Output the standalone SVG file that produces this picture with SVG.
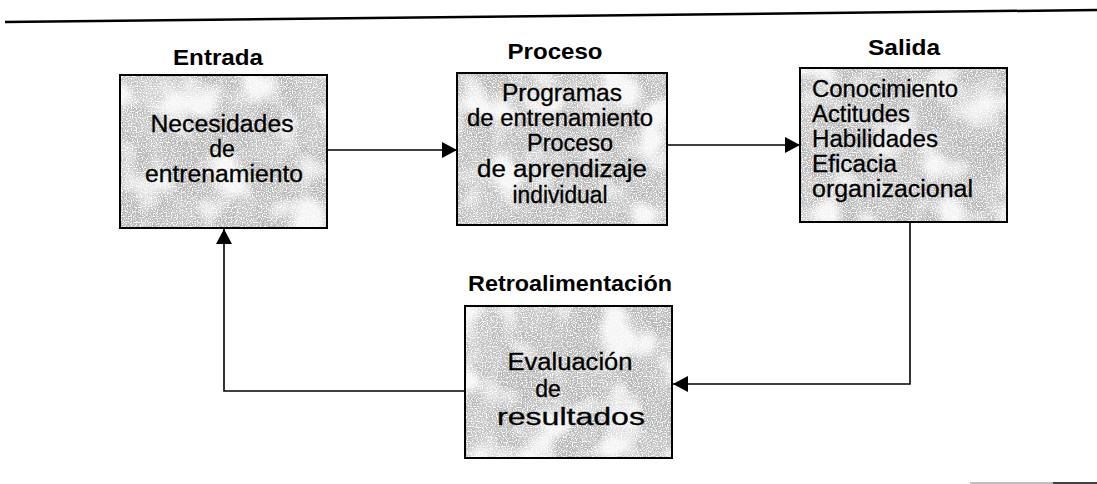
<svg xmlns="http://www.w3.org/2000/svg" width="1097" height="484" viewBox="0 0 1097 484">
<defs>
<style>
.lbl{font-family:"Liberation Sans",Arial,sans-serif;font-weight:bold;font-size:22px;fill:#000}
.txt{font-family:"Liberation Sans",Arial,sans-serif;font-size:23px;fill:#000;stroke:#000;stroke-width:0.3}
.fillbox{fill:#b0b0b0;filter:url(#mottle)}
.frame{fill:none;stroke:#000;stroke-width:2}
.edge{fill:none;stroke:#000;stroke-width:1.6}
</style>
<filter id="mottle" x="0" y="0" width="100%" height="100%">
<feTurbulence type="fractalNoise" baseFrequency="0.03" numOctaves="3" seed="4" result="n"/>
<feColorMatrix in="n" type="matrix" values="0 0 0 0 0.55  0 0 0 0 0.55  0 0 0 0 0.55  0 0 0 4 -1.6" result="dark"/>
<feTurbulence type="fractalNoise" baseFrequency="0.025" numOctaves="2" seed="11" result="n2"/>
<feColorMatrix in="n2" type="matrix" values="0 0 0 0 0.9  0 0 0 0 0.9  0 0 0 0 0.9  0 0 0 4 -1.9" result="light"/>
<feTurbulence type="fractalNoise" baseFrequency="0.8" numOctaves="1" seed="7" result="f"/>
<feColorMatrix in="f" type="matrix" values="0 0 0 0 1  0 0 0 0 1  0 0 0 0 1  0 0 0 5 -2.4" result="speck"/>
<feFlood flood-color="#b8b8b8" result="base"/>
<feComposite in="dark" in2="base" operator="over" result="m1"/>
<feComposite in="light" in2="m1" operator="over" result="m2"/>
<feComposite in="speck" in2="m2" operator="over" result="m3"/>
<feComposite in="m3" in2="SourceGraphic" operator="in"/>
</filter>
<marker id="arr" viewBox="0 0 15 16" refX="15" refY="8" markerWidth="15" markerHeight="16" markerUnits="userSpaceOnUse" orient="auto">
<path d="M0,0 L15,8 L0,16 Z" fill="#000"/>
</marker>
</defs>
<rect width="1097" height="484" fill="#fff"/>
<line x1="5" y1="22" x2="1097" y2="10" stroke="#000" stroke-width="2.5"/>
<line x1="970" y1="483" x2="1053" y2="483" stroke="#aaa" stroke-width="1.5"/>
<line x1="1053" y1="483" x2="1097" y2="483" stroke="#000" stroke-width="1.5"/>

<g id="entrada">
<text class="lbl" x="218" y="65" text-anchor="middle" textLength="90" lengthAdjust="spacingAndGlyphs">Entrada</text>
<rect class="fillbox" x="120" y="75" width="207" height="153"/>
<rect class="frame" x="120" y="75" width="207" height="153"/>
<text class="txt" x="222" y="132" text-anchor="middle" textLength="143" lengthAdjust="spacingAndGlyphs">Necesidades</text>
<text class="txt" x="222" y="157" text-anchor="middle">de</text>
<text class="txt" x="224" y="182" text-anchor="middle" textLength="158" lengthAdjust="spacingAndGlyphs">entrenamiento</text>
</g>

<g id="proceso">
<text class="lbl" x="555" y="59" text-anchor="middle" textLength="95" lengthAdjust="spacingAndGlyphs">Proceso</text>
<rect class="fillbox" x="457" y="73" width="210" height="152"/>
<rect class="frame" x="457" y="73" width="210" height="152"/>
<text class="txt" x="562" y="101" text-anchor="middle" textLength="120" lengthAdjust="spacingAndGlyphs">Programas</text>
<text class="txt" x="560" y="126" text-anchor="middle" textLength="186" lengthAdjust="spacingAndGlyphs">de entrenamiento</text>
<text class="txt" x="570" y="151" text-anchor="middle" textLength="86" lengthAdjust="spacingAndGlyphs">Proceso</text>
<text class="txt" x="562" y="177" text-anchor="middle" textLength="170" lengthAdjust="spacingAndGlyphs">de aprendizaje</text>
<text class="txt" x="560" y="203" text-anchor="middle" textLength="95" lengthAdjust="spacingAndGlyphs">individual</text>
</g>

<g id="salida">
<text class="lbl" x="904" y="55" text-anchor="middle" textLength="72" lengthAdjust="spacingAndGlyphs">Salida</text>
<rect class="fillbox" x="800" y="68" width="207" height="154"/>
<rect class="frame" x="800" y="68" width="207" height="154"/>
<text class="txt" x="812" y="97" textLength="146" lengthAdjust="spacingAndGlyphs">Conocimiento</text>
<text class="txt" x="812" y="122" textLength="98" lengthAdjust="spacingAndGlyphs">Actitudes</text>
<text class="txt" x="812" y="147" textLength="126" lengthAdjust="spacingAndGlyphs">Habilidades</text>
<text class="txt" x="812" y="172" textLength="85" lengthAdjust="spacingAndGlyphs">Eficacia</text>
<text class="txt" x="812" y="197" textLength="161" lengthAdjust="spacingAndGlyphs">organizacional</text>
</g>

<g id="retroalimentacion">
<text class="lbl" x="570" y="291" text-anchor="middle" textLength="204" lengthAdjust="spacingAndGlyphs">Retroalimentación</text>
<rect class="fillbox" x="465" y="306" width="207" height="152"/>
<rect class="frame" x="465" y="306" width="207" height="152"/>
<text class="txt" x="570" y="370" text-anchor="middle" textLength="125" lengthAdjust="spacingAndGlyphs">Evaluación</text>
<text class="txt" x="548" y="397" text-anchor="middle">de</text>
<text class="txt" x="571" y="425" text-anchor="middle" textLength="148" lengthAdjust="spacingAndGlyphs">resultados</text>
</g>

<g id="connectors">
<path class="edge" d="M327,150 H457" marker-end="url(#arr)"/>
<path class="edge" d="M667,145 H800" marker-end="url(#arr)"/>
<path class="edge" d="M910,222 V384 H673" marker-end="url(#arr)"/>
<path class="edge" d="M465,391 H224 V229" marker-end="url(#arr)"/>
</g>
</svg>
